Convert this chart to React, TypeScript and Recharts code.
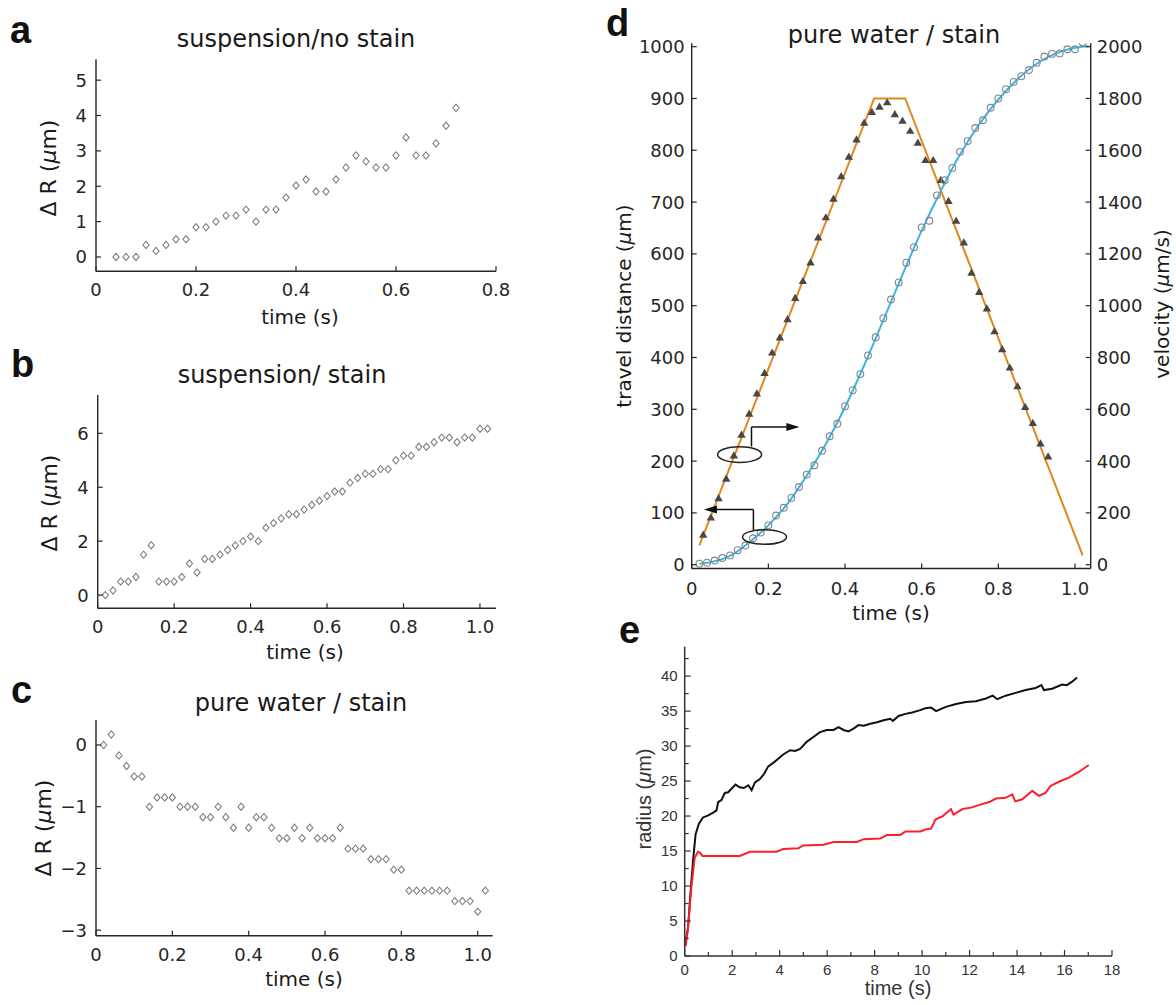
import React from "react";
import {
  ScatterChart,
  Scatter,
  ComposedChart,
  LineChart,
  Line,
  XAxis,
  YAxis,
  ReferenceDot,
  ReferenceLine,
} from "recharts";

// ---- panel a : suspension / no stain
const aTime = [
  0.04, 0.06, 0.08, 0.1, 0.12, 0.14, 0.16, 0.18, 0.2, 0.22, 0.24, 0.26, 0.28, 0.3, 0.32, 0.34, 0.36, 0.38,
  0.4, 0.42, 0.44, 0.46, 0.48, 0.5, 0.52, 0.54, 0.56, 0.58, 0.6, 0.62, 0.64, 0.66, 0.68, 0.7, 0.72,
];
const aDeltaR = [
  0, 0, 0, 0.34, 0.17, 0.34, 0.5, 0.5, 0.84, 0.84, 1.0, 1.17, 1.17, 1.34, 1.0, 1.34, 1.34, 1.68, 2.02, 2.19,
  1.85, 1.85, 2.19, 2.53, 2.87, 2.7, 2.53, 2.53, 2.87, 3.38, 2.87, 2.87, 3.21, 3.71, 4.22,
];
const aXTicks = [0, 0.2, 0.4, 0.6, 0.8];
const aYTicks = [0, 1, 2, 3, 4, 5];

// ---- panels b and c share the same sampling times
const frameTime = [
  0.02, 0.04, 0.06, 0.08, 0.1, 0.12, 0.14, 0.16, 0.18, 0.2, 0.22, 0.24, 0.26, 0.28, 0.3, 0.32, 0.34, 0.36,
  0.38, 0.4, 0.42, 0.44, 0.46, 0.48, 0.5, 0.52, 0.54, 0.56, 0.58, 0.6, 0.62, 0.64, 0.66, 0.68, 0.7, 0.72,
  0.74, 0.76, 0.78, 0.8, 0.82, 0.84, 0.86, 0.88, 0.9, 0.92, 0.94, 0.96, 0.98, 1.0, 1.02,
];
const bDeltaR = [
  0, 0.17, 0.5, 0.5, 0.67, 1.5, 1.85, 0.5, 0.5, 0.5, 0.67, 1.17, 0.84, 1.34, 1.34, 1.5, 1.67, 1.84, 2.0,
  2.17, 2.0, 2.5, 2.67, 2.84, 3.0, 3.0, 3.17, 3.34, 3.5, 3.67, 3.84, 3.84, 4.17, 4.34, 4.5, 4.5, 4.67,
  4.67, 5.0, 5.17, 5.17, 5.5, 5.5, 5.67, 5.84, 5.84, 5.67, 5.84, 5.84, 6.17, 6.17,
];
const cDeltaR = [
  0, 0.17, -0.17, -0.34, -0.51, -0.51, -1.0, -0.85, -0.85, -0.85, -1.0, -1.0, -1.0, -1.17, -1.17, -1.0,
  -1.17, -1.34, -1.0, -1.34, -1.17, -1.17, -1.34, -1.51, -1.51, -1.34, -1.51, -1.34, -1.51, -1.51, -1.51,
  -1.34, -1.68, -1.68, -1.68, -1.85, -1.85, -1.85, -2.02, -2.02, -2.36, -2.36, -2.36, -2.36, -2.36, -2.36,
  -2.53, -2.53, -2.53, -2.7, -2.36,
];
const secXTicks = [0, 0.2, 0.4, 0.6, 0.8, 1.0];
const bYTicks = [0, 2, 4, 6];
const cYTicks = [-3, -2, -1, 0];

// ---- panel d : pure water / stain, distance + velocity
const dTriTime = [
  0.03, 0.05, 0.07, 0.09, 0.11, 0.13, 0.15, 0.17, 0.19, 0.21, 0.23, 0.25, 0.27, 0.29, 0.31, 0.33, 0.35, 0.37,
  0.39, 0.41, 0.43, 0.45, 0.47, 0.49, 0.51, 0.53, 0.55, 0.57, 0.59, 0.61, 0.63, 0.65, 0.67, 0.69, 0.71,
  0.73, 0.75, 0.77, 0.79, 0.81, 0.83, 0.85, 0.87, 0.89, 0.91, 0.93,
];
const dVelocity = [
  116, 182, 257, 332, 422, 502, 583, 661, 740, 819, 877, 948, 1030, 1095, 1167, 1263, 1341, 1413, 1500,
  1575, 1642, 1706, 1748, 1768, 1785, 1739, 1714, 1675, 1629, 1562, 1562, 1485, 1404, 1328, 1244, 1127,
  1053, 989, 901, 832, 761, 689, 609, 547, 468, 418,
];
const dDistance = [
  2, 4, 8, 13, 18, 28, 37, 51, 62, 76, 95, 110, 129, 150, 174, 192, 220, 248, 272, 306, 337, 368, 404, 439,
  476, 512, 545, 583, 613, 651, 664, 713, 742, 766, 797, 818, 843, 858, 882, 900, 918, 932, 943, 955, 969,
  981, 986, 987, 995, 995, 1008,
];
const dFitTime = [
  0.02, 0.05, 0.1, 0.15, 0.2, 0.25, 0.3, 0.35, 0.4, 0.45, 0.5, 0.55, 0.6, 0.65, 0.7, 0.75, 0.8, 0.85, 0.9,
  0.95, 1.0, 1.035,
];
const dFitDistance = [
  2, 5, 17, 43, 76, 118, 172, 233, 304, 385, 472, 560, 645, 722, 792, 850, 898, 937, 967, 987, 998, 1001,
];
const dRampTime = [0.02, 0.476, 0.557, 1.02];
const dRampVelocity = [75, 1800, 1800, 36];
const dLeftTicks = [0, 100, 200, 300, 400, 500, 600, 700, 800, 900, 1000];
const dRightTicks = [0, 200, 400, 600, 800, 1000, 1200, 1400, 1600, 1800, 2000];

// ---- panel e : radius vs time
const eBlackTime = [
  0.04, 0.14, 0.24, 0.35, 0.46, 0.6, 0.77, 0.99, 1.2, 1.34, 1.41, 1.55, 1.69, 1.83, 1.97, 2.14, 2.32, 2.49,
  2.68, 2.82, 2.96, 3.17, 3.34, 3.52, 3.73, 3.94, 4.15, 4.44, 4.65, 4.86, 5.14, 5.42, 5.7, 5.99, 6.27, 6.48,
  6.69, 6.9, 7.11, 7.32, 7.54, 7.82, 8.1, 8.38, 8.66, 8.77, 9.01, 9.3, 9.58, 9.89, 10.14, 10.38, 10.59,
  11.0, 11.43, 11.85, 12.27, 12.69, 12.97, 13.17, 13.52, 13.94, 14.36, 14.78, 15.03, 15.13, 15.48, 15.9,
  16.1, 16.32, 16.53,
];
const eBlackRadius = [
  2.1, 4, 8.8, 13.6, 17.4, 18.9, 19.8, 20.1, 20.5, 20.8, 22, 22.3, 23.3, 23.4, 23.9, 24.5, 24.1, 24.0, 24.4,
  23.7, 24.8, 25.3, 26.0, 27.1, 27.6, 28.2, 28.8, 29.4, 29.3, 29.6, 30.6, 31.3, 32.0, 32.3, 32.3, 32.7,
  32.3, 32.1, 32.5, 33.0, 32.9, 33.2, 33.4, 33.7, 33.9, 33.6, 34.3, 34.6, 34.8, 35.1, 35.4, 35.5, 35.0,
  35.6, 36.0, 36.3, 36.4, 36.8, 37.2, 36.7, 37.2, 37.6, 38.0, 38.3, 38.7, 38.0, 38.2, 38.8, 38.7, 39.2, 39.8,
];
const eRedTime = [
  0.04, 0.14, 0.28, 0.42, 0.56, 0.63, 0.75, 1.48, 2.32, 2.75, 3.87, 4.15, 4.79, 5.0, 5.85, 6.27, 7.25, 7.54,
  8.24, 8.52, 9.08, 9.3, 9.93, 10.17, 10.38, 10.56, 10.87, 11.22, 11.32, 11.71, 12.06, 12.41, 12.83, 13.11,
  13.52, 13.8, 13.92, 14.22, 14.64, 14.92, 15.2, 15.41, 15.76, 16.18, 16.6, 17.02,
];
const eRedRadius = [
  1.4, 4.0, 9.8, 14.0, 14.9, 14.8, 14.3, 14.3, 14.3, 14.9, 14.9, 15.3, 15.4, 15.8, 15.9, 16.3, 16.3, 16.7,
  16.8, 17.3, 17.3, 17.8, 17.8, 18.1, 18.2, 19.5, 20.0, 21.0, 20.2, 21.0, 21.2, 21.6, 22.0, 22.5, 22.6,
  23.1, 22.1, 22.4, 23.6, 22.9, 23.3, 24.3, 24.9, 25.5, 26.3, 27.3,
];
const eXTicks = [0, 1, 2, 3, 4, 5, 6, 7, 8, 9, 10, 11, 12, 13, 14, 15, 16, 17, 18];
const eYTicks = [0, 2.5, 5, 7.5, 10, 12.5, 15, 17.5, 20, 22.5, 25, 27.5, 30, 32.5, 35, 37.5, 40, 42.5];

const pairs = (xs: number[], ys: number[]) => xs.map((t, i) => ({ t, v: ys[i] }));

const INK = "#262626";
const DV = "'DejaVu Sans', sans-serif";
const LS = "'Liberation Sans', Arial, sans-serif";
const axisLineMat = { stroke: INK, strokeWidth: 1.4 };
const axisLineE = { stroke: "#333", strokeWidth: 1.5 };

type TickOpts = {
  side: "bottom" | "left" | "right";
  len: number;
  gap: number;
  family: string;
  size: number;
  color: string;
  fmt: (v: number) => string;
  major?: (v: number) => boolean;
  minorLen?: number;
};

// inward ticks (matlab style): the axis gives us the axis-line coordinate since tickSize=0
const tickFactory = (o: TickOpts) => (props: any) => {
  const { x, y, payload } = props;
  const v = Number(payload.value);
  const isMajor = o.major ? o.major(v) : true;
  const l = isMajor ? o.len : o.minorLen ?? 3;
  const txt = isMajor ? o.fmt(v) : "";
  if (o.side === "bottom") {
    return (
      <g>
        <line x1={x} x2={x} y1={y} y2={y - l} stroke={o.color} strokeWidth={1.2} />
        {txt && (
          <text x={x} y={y + o.gap} textAnchor="middle" fontFamily={o.family} fontSize={o.size} fill={o.color}>
            {txt}
          </text>
        )}
      </g>
    );
  }
  const dir = o.side === "left" ? 1 : -1;
  return (
    <g>
      <line x1={x} x2={x + dir * l} y1={y} y2={y} stroke={o.color} strokeWidth={1.2} />
      {txt && (
        <text
          x={x - dir * o.gap}
          y={y}
          dy="0.36em"
          textAnchor={o.side === "left" ? "end" : "start"}
          fontFamily={o.family}
          fontSize={o.size}
          fill={o.color}
        >
          {txt}
        </text>
      )}
    </g>
  );
};

const fmtDec = (v: number) => (v === 0 ? "0" : v.toFixed(1));
const fmtInt = (v: number) => (v < 0 ? "\u2212" + Math.abs(v) : String(v));

const matX = tickFactory({ side: "bottom", len: 5, gap: 25, family: DV, size: 18, color: INK, fmt: fmtDec });
const matY = tickFactory({ side: "left", len: 5, gap: 9, family: DV, size: 18, color: INK, fmt: fmtInt });
const dX = tickFactory({ side: "bottom", len: 5, gap: 26, family: DV, size: 18, color: INK, fmt: fmtDec });
const dL = tickFactory({ side: "left", len: 5, gap: 7, family: DV, size: 18, color: INK, fmt: fmtInt });
const dR = tickFactory({ side: "right", len: 5, gap: 6, family: DV, size: 18, color: INK, fmt: fmtInt });
const eX = tickFactory({
  side: "bottom", len: 6, minorLen: 4, gap: 19, family: LS, size: 15, color: "#333",
  fmt: (v) => String(v), major: (v) => v % 2 === 0,
});
const eY = tickFactory({
  side: "left", len: 6, minorLen: 4, gap: 7, family: LS, size: 15, color: "#333",
  fmt: (v) => String(v), major: (v) => v % 5 === 0,
});

const Diamond = (p: any) => (
  <polygon
    points={`${p.cx},${p.cy - 3.6} ${p.cx + 3.1},${p.cy} ${p.cx},${p.cy + 3.6} ${p.cx - 3.1},${p.cy}`}
    fill="none"
    stroke="#808080"
    strokeWidth={1.1}
  />
);
const Tri = (p: any) => (
  <polygon points={`${p.cx},${p.cy - 4.2} ${p.cx + 4.2},${p.cy + 3} ${p.cx - 4.2},${p.cy + 3}`} fill="#474747" />
);
const Ring = (p: any) => <circle cx={p.cx} cy={p.cy} r={3.4} fill="none" stroke="#858585" strokeWidth={1.1} />;
const ellipseShape = (rx: number, ry: number) => (p: any) => (
  <ellipse cx={p.cx} cy={p.cy} rx={rx} ry={ry} fill="none" stroke="#222" strokeWidth={1.5} />
);
const arrowHead = (dir: number) => (p: any) => (
  <polygon
    points={`${p.cx},${p.cy} ${p.cx - dir * 13},${p.cy - 4} ${p.cx - dir * 13},${p.cy + 4}`}
    fill="#111"
  />
);

const MatPanel = ({
  top, height, mTop, mRight, xH, yW, xDomain, yDomain, xTicks, yTicks, data,
}: any) => (
  <div style={{ position: "absolute", left: 0, top }}>
    <ScatterChart width={520} height={height} margin={{ top: mTop, right: mRight, bottom: 0, left: 0 }}>
      <XAxis
        type="number" dataKey="t" domain={xDomain} ticks={xTicks} allowDataOverflow interval={0}
        height={xH} tickSize={0} tickMargin={0} tickLine={false} axisLine={axisLineMat} tick={matX}
      />
      <YAxis
        type="number" dataKey="v" domain={yDomain} ticks={yTicks} allowDataOverflow interval={0}
        width={yW} tickSize={0} tickMargin={0} tickLine={false} axisLine={axisLineMat} tick={matY}
      />
      <Scatter data={data} shape={Diamond} isAnimationActive={false} />
    </ScatterChart>
  </div>
);

const RotLabel = ({ x, y, family, size, fill, children }: any) => (
  <text
    transform={`translate(${x},${y}) rotate(-90)`}
    textAnchor="middle"
    dy="0.35em"
    fontFamily={family}
    fontSize={size}
    fill={fill}
  >
    {children}
  </text>
);

const App = () => {
  const aData = pairs(aTime, aDeltaR);
  const bData = pairs(frameTime, bDeltaR);
  const cData = pairs(frameTime, cDeltaR);
  const triData = pairs(dTriTime, dVelocity);
  const circData = pairs(frameTime, dDistance);
  const fitData = pairs(dFitTime, dFitDistance);
  const rampData = pairs(dRampTime, dRampVelocity);
  const blackData = pairs(eBlackTime, eBlackRadius);
  const redData = pairs(eRedTime, eRedRadius);

  const letter = { fontFamily: LS, fontWeight: 700, fontSize: 38, fill: "#111" };
  const title = { fontFamily: DV, fontSize: 24, fill: "#1a1a1a", textAnchor: "middle" as const };
  const xlab = { fontFamily: DV, fontSize: 20, fill: "#1a1a1a", textAnchor: "middle" as const };

  return (
    <div style={{ position: "absolute", left: 0, top: 0, width: 1176, height: 1005, background: "#fff" }}>
      <MatPanel
        top={0} height={330} mTop={59.3} mRight={24} xH={58.7} yW={96}
        xDomain={[0, 0.8]} yDomain={[-0.405, 5.59]} xTicks={aXTicks} yTicks={aYTicks} data={aData}
      />
      <MatPanel
        top={330} height={335} mTop={65} mRight={24} xH={56.7} yW={97.7}
        xDomain={[0, 1.042]} yDomain={[-0.49, 7.42]} xTicks={secXTicks} yTicks={bYTicks} data={bData}
      />
      <MatPanel
        top={665} height={340} mTop={55} mRight={27.4} xH={69.3} yW={96}
        xDomain={[0, 1.039]} yDomain={[-3.09, 0.405]} xTicks={secXTicks} yTicks={cYTicks} data={cData}
      />

      <div style={{ position: "absolute", left: 590, top: 0 }}>
        <ComposedChart width={586} height={600} margin={{ top: 43.3, right: 25.3, bottom: 0, left: 0 }}>
          <XAxis
            type="number" dataKey="t" domain={[0, 1.041]} ticks={secXTicks} allowDataOverflow interval={0}
            height={31.5} tickSize={0} tickMargin={0} tickLine={false} axisLine={axisLineMat} tick={dX}
          />
          <YAxis
            yAxisId="L" type="number" domain={[-7.3, 1006.5]} ticks={dLeftTicks} allowDataOverflow interval={0}
            width={101.7} tickSize={0} tickMargin={0} tickLine={false} axisLine={axisLineMat} tick={dL}
          />
          <YAxis
            yAxisId="R" orientation="right" type="number" domain={[-14.6, 2013]} ticks={dRightTicks}
            allowDataOverflow interval={0} width={60} tickSize={0} tickMargin={0} tickLine={false}
            axisLine={axisLineMat} tick={dR}
          />
          <Line
            yAxisId="R" data={rampData} dataKey="v" type="linear" stroke="#e2851b" strokeWidth={2}
            dot={false} isAnimationActive={false}
          />
          <Scatter yAxisId="R" data={triData} dataKey="v" shape={Tri} isAnimationActive={false} />
          <Line
            yAxisId="L" data={fitData} dataKey="v" type="monotone" stroke="#3db4e6" strokeWidth={2}
            dot={false} isAnimationActive={false}
          />
          <Scatter yAxisId="L" data={circData} dataKey="v" shape={Ring} isAnimationActive={false} />
          <ReferenceDot yAxisId="L" x={0.125} y={212.6} shape={ellipseShape(22, 7.8)} />
          <ReferenceLine yAxisId="L" segment={[{ x: 0.156, y: 228 }, { x: 0.156, y: 266 }]} stroke="#111" strokeWidth={1.5} />
          <ReferenceLine yAxisId="L" segment={[{ x: 0.156, y: 266 }, { x: 0.275, y: 266 }]} stroke="#111" strokeWidth={1.5} />
          <ReferenceDot yAxisId="L" x={0.281} y={266} shape={arrowHead(1)} />
          <ReferenceDot yAxisId="L" x={0.19} y={53.5} shape={ellipseShape(22, 7.3)} />
          <ReferenceLine yAxisId="L" segment={[{ x: 0.161, y: 66 }, { x: 0.161, y: 106.5 }]} stroke="#111" strokeWidth={1.5} />
          <ReferenceLine yAxisId="L" segment={[{ x: 0.161, y: 106.5 }, { x: 0.04, y: 106.5 }]} stroke="#111" strokeWidth={1.5} />
          <ReferenceDot yAxisId="L" x={0.032} y={106.5} shape={arrowHead(-1)} />
        </ComposedChart>
      </div>

      <div style={{ position: "absolute", left: 590, top: 620 }}>
        <LineChart width={586} height={385} margin={{ top: 26.7, right: 64, bottom: 0, left: 0 }}>
          <XAxis
            type="number" dataKey="t" domain={[0, 18]} ticks={eXTicks} allowDataOverflow interval={0}
            height={49} tickSize={0} tickMargin={0} tickLine={false} axisLine={axisLineE} tick={eX}
          />
          <YAxis
            type="number" domain={[0, 44.2]} ticks={eYTicks} allowDataOverflow interval={0}
            width={94.7} tickSize={0} tickMargin={0} tickLine={false} axisLine={axisLineE} tick={eY}
          />
          <Line data={blackData} dataKey="v" type="linear" stroke="#111" strokeWidth={2} dot={false} isAnimationActive={false} />
          <Line data={redData} dataKey="v" type="linear" stroke="#ff1e2d" strokeWidth={2} dot={false} isAnimationActive={false} />
        </LineChart>
      </div>

      <svg
        width={1176}
        height={1005}
        style={{ position: "absolute", left: 0, top: 0, pointerEvents: "none" }}
      >
        <text x={10} y={43} {...letter}>a</text>
        <text x={11} y={377} {...letter}>b</text>
        <text x={11} y={703} {...letter}>c</text>
        <text x={606} y={36} {...letter}>d</text>
        <text x={619} y={643} {...letter}>e</text>

        <text x={296} y={47} {...title}>suspension/no stain</text>
        <text x={282} y={383} {...title}>suspension/ stain</text>
        <text x={301} y={711} {...title}>pure water / stain</text>
        <text x={894} y={43} {...title}>pure water / stain</text>

        <text x={300} y={324} {...xlab}>time (s)</text>
        <text x={305} y={659} {...xlab}>time (s)</text>
        <text x={304} y={986} {...xlab}>time (s)</text>
        <text x={891} y={620} {...xlab}>time (s)</text>
        <text x={898} y={995} fontFamily={LS} fontSize={20} fill="#333" textAnchor="middle">time (s)</text>

        <RotLabel x={48} y={168} family={DV} size={22} fill="#1a1a1a">
          {"\u0394 R ("}<tspan fontStyle="italic">{"\u03bc"}</tspan>{"m)"}
        </RotLabel>
        <RotLabel x={49} y={503} family={DV} size={22} fill="#1a1a1a">
          {"\u0394 R ("}<tspan fontStyle="italic">{"\u03bc"}</tspan>{"m)"}
        </RotLabel>
        <RotLabel x={43} y={828} family={DV} size={22} fill="#1a1a1a">
          {"\u0394 R ("}<tspan fontStyle="italic">{"\u03bc"}</tspan>{"m)"}
        </RotLabel>
        <RotLabel x={624} y={306} family={DV} size={20} fill="#1a1a1a">
          {"travel distance ("}<tspan fontStyle="italic">{"\u03bc"}</tspan>{"m)"}
        </RotLabel>
        <RotLabel x={1162} y={304} family={DV} size={20} fill="#1a1a1a">
          {"velocity ("}<tspan fontStyle="italic">{"\u03bc"}</tspan>{"m/s)"}
        </RotLabel>
        <RotLabel x={644} y={799} family={LS} size={20} fill="#333">
          {"radius ("}<tspan fontStyle="italic">{"\u03bc"}</tspan>{"m)"}
        </RotLabel>
      </svg>
    </div>
  );
};

export default App;
